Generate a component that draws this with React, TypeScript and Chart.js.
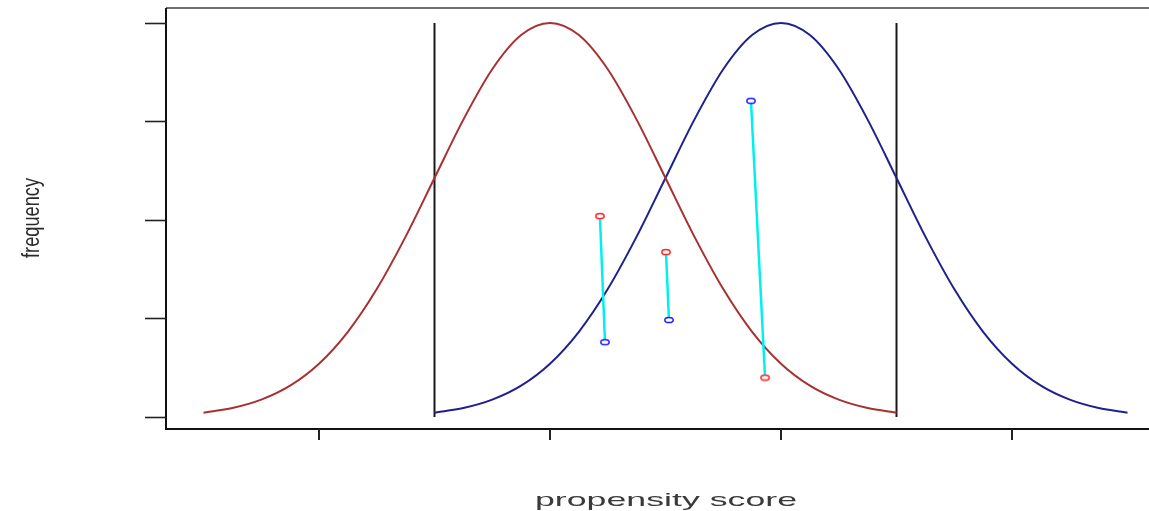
import React, { useEffect, useRef } from "react";
import { Chart, registerables } from "chart.js";

Chart.register(...registerables);

// Treated group curve (red) and control group curve (blue)
const redX = [0.5, 0.625, 0.75, 0.875, 1.0, 1.125, 1.25, 1.375, 1.5, 1.625, 1.75, 1.875, 2.0, 2.125, 2.25, 2.375, 2.5, 2.625, 2.75, 2.875, 3.0, 3.125, 3.25, 3.375, 3.5];
const redY = [0.044, 0.091, 0.176, 0.318, 0.541, 0.865, 1.299, 1.831, 2.426, 3.019, 3.53, 3.877, 4.0, 3.877, 3.53, 3.019, 2.426, 1.831, 1.299, 0.865, 0.541, 0.318, 0.176, 0.091, 0.044];
const blueX = [1.5, 1.625, 1.75, 1.875, 2.0, 2.125, 2.25, 2.375, 2.5, 2.625, 2.75, 2.875, 3.0, 3.125, 3.25, 3.375, 3.5, 3.625, 3.75, 3.875, 4.0, 4.125, 4.25, 4.375, 4.5];
const blueY = [0.044, 0.091, 0.176, 0.318, 0.541, 0.865, 1.299, 1.831, 2.426, 3.019, 3.53, 3.877, 4.0, 3.877, 3.53, 3.019, 2.426, 1.831, 1.299, 0.865, 0.541, 0.318, 0.176, 0.091, 0.044];

// Common-support cutoffs (vertical lines)
const cutoffX = [1.5, 3.5];
const cutoffY = [0, 4];

// Matched pairs
const pairRedX = [2.216, 2.502, 2.931];
const pairRedY = [2.04, 1.675, 0.4];
const pairBlueX = [2.238, 2.515, 2.87];
const pairBlueY = [0.76, 0.985, 3.21];

// Axis ticks (no labels)
const xTicks = [1, 2, 3, 4];
const yTicks = [0, 1, 2, 3, 4];
const xLabel = "propensity score";
const yLabel = "frequency";

function marker(color: string) {
  const c = document.createElement("canvas");
  c.width = 12;
  c.height = 8;
  const g = c.getContext("2d")!;
  g.fillStyle = "#ffffff";
  g.strokeStyle = color;
  g.lineWidth = 1.5;
  g.beginPath();
  g.ellipse(6, 4, 4.2, 2.6, 0, 0, Math.PI * 2);
  g.fill();
  g.stroke();
  return c;
}

const framePlugin = {
  id: "rframe",
  afterDatasetsDraw(chart: any) {
    const { ctx, chartArea: a, scales } = chart;
    const x = scales.x;
    const y = scales.y;
    ctx.save();
    // top border (gray)
    ctx.strokeStyle = "#6e6e6e";
    ctx.lineWidth = 2;
    ctx.beginPath();
    ctx.moveTo(a.left, a.top);
    ctx.lineTo(a.right, a.top);
    ctx.stroke();
    // left + bottom border
    ctx.strokeStyle = "#111111";
    ctx.lineWidth = 2;
    ctx.beginPath();
    ctx.moveTo(a.left, a.top);
    ctx.lineTo(a.left, a.bottom);
    ctx.lineTo(a.right, a.bottom);
    ctx.stroke();
    // ticks
    ctx.lineWidth = 1.6;
    ctx.strokeStyle = "#222222";
    for (const v of yTicks) {
      const py = Math.round(y.getPixelForValue(v)) + 0.5;
      ctx.beginPath();
      ctx.moveTo(a.left - 21, py);
      ctx.lineTo(a.left, py);
      ctx.stroke();
    }
    ctx.lineWidth = 2;
    for (const v of xTicks) {
      const px = Math.round(x.getPixelForValue(v));
      ctx.beginPath();
      ctx.moveTo(px, a.bottom);
      ctx.lineTo(px, a.bottom + 11);
      ctx.stroke();
    }
    // x label (horizontally stretched)
    ctx.fillStyle = "#3a3a3a";
    ctx.font = '19px "Liberation Sans", Arial, sans-serif';
    ctx.textBaseline = "alphabetic";
    ctx.textAlign = "left";
    const w = ctx.measureText(xLabel).width;
    const targetW = 262;
    ctx.save();
    ctx.translate(535, 506);
    ctx.scale(targetW / w, 1);
    ctx.fillText(xLabel, 0, 0);
    ctx.restore();
    // y label (rotated, compressed along its length)
    ctx.fillStyle = "#2a2a2a";
    ctx.font = '19px "Liberation Sans", Arial, sans-serif';
    const wy = ctx.measureText(yLabel).width;
    const targetH = 80;
    ctx.save();
    ctx.translate(39, 258);
    ctx.rotate(-Math.PI / 2);
    ctx.scale(targetH / wy, 1.3);
    ctx.fillText(yLabel, 0, 0);
    ctx.restore();
    ctx.restore();
  },
};

export default function App() {
  const ref = useRef<HTMLCanvasElement>(null);
  useEffect(() => {
    document.body.style.margin = "0";
    const toPts = (xs: number[], ys: number[]) => xs.map((v, i) => ({ x: v, y: ys[i] }));
    const pairSets = pairRedX.map((_, i) => ({
      data: [
        { x: pairRedX[i], y: pairRedY[i] },
        { x: pairBlueX[i], y: pairBlueY[i] },
      ],
      showLine: true,
      borderColor: "#00f0f0",
      borderWidth: 2.5,
      pointRadius: 0,
      order: 3,
    }));
    const chart = new Chart(ref.current!, {
      type: "scatter",
      data: {
        datasets: [
          {
            data: toPts(pairRedX, pairRedY),
            pointStyle: marker("#ff2020") as any,
            pointRadius: 5,
            showLine: false,
            order: 1,
          },
          {
            data: toPts(pairBlueX, pairBlueY),
            pointStyle: marker("#2020ff") as any,
            pointRadius: 5,
            showLine: false,
            order: 1,
          },
          ...pairSets,
          {
            data: toPts(redX, redY),
            showLine: true,
            borderColor: "#a83030",
            borderWidth: 2,
            pointRadius: 0,
            cubicInterpolationMode: "monotone",
            order: 5,
          },
          {
            data: toPts(blueX, blueY),
            showLine: true,
            borderColor: "#20208c",
            borderWidth: 2,
            pointRadius: 0,
            cubicInterpolationMode: "monotone",
            order: 5,
          },
          ...cutoffX.map((cx) => ({
            data: [
              { x: cx, y: cutoffY[0] },
              { x: cx, y: cutoffY[1] },
            ],
            showLine: true,
            borderColor: "#1a1a1a",
            borderWidth: 2,
            pointRadius: 0,
            order: 7,
          })),
        ] as any,
      },
      options: {
        responsive: false,
        animation: false,
        devicePixelRatio: 1,
        layout: { autoPadding: false, padding: { left: 166, top: 8, right: 0, bottom: 82 } },
        plugins: { legend: { display: false }, tooltip: { enabled: false } },
        scales: {
          x: { type: "linear", min: 0.3377, max: 4.593, display: false },
          y: { type: "linear", min: -0.1218, max: 4.152, display: false },
        },
      },
      plugins: [framePlugin],
    });
    return () => chart.destroy();
  }, []);
  return (
    <div style={{ position: "absolute", left: 0, top: 0, width: 1149, height: 511, background: "#fff" }}>
      <canvas ref={ref} width={1149} height={511} style={{ display: "block" }} />
    </div>
  );
}
